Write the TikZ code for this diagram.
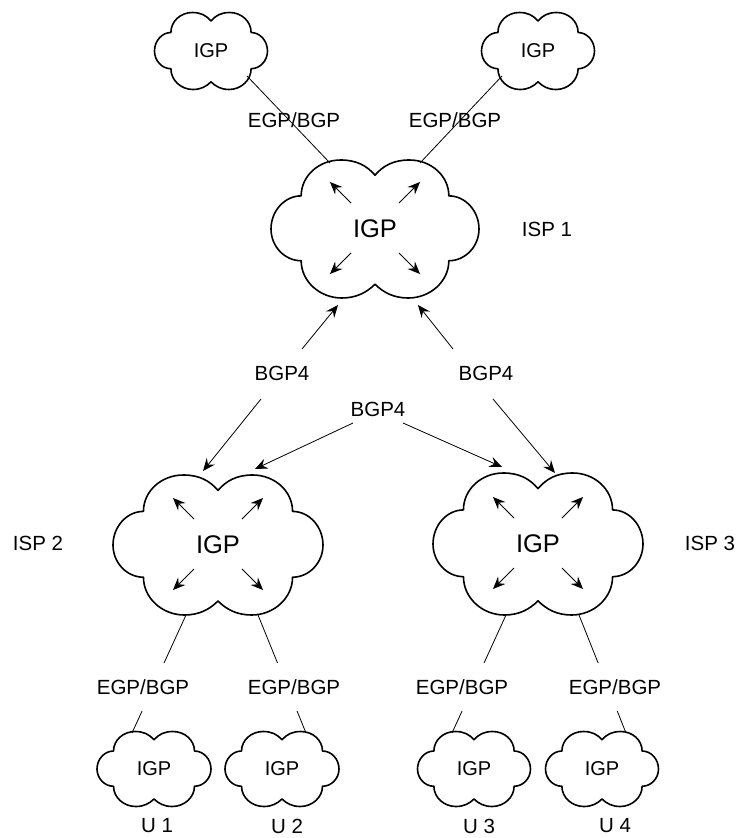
\documentclass[tikz,border=0pt]{standalone}
\usepackage{fontspec}
\setmainfont{Liberation Sans}
\usetikzlibrary{arrows.meta,calc}
\newcommand{\cloudpath}{(0,-0.78) .. controls (0.08,-0.92) and (0.18,-1) .. (0.33,-1)
 .. controls (0.54,-1) and (0.71,-0.77) .. (0.71,-0.48)
 .. controls (0.87,-0.48) and (1,-0.26) .. (1,0)
 .. controls (1,0.25) and (0.87,0.46) .. (0.71,0.46)
 .. controls (0.71,0.76) and (0.53,1) .. (0.32,1)
 .. controls (0.18,1) and (0.08,0.92) .. (0,0.8)
 .. controls (-0.08,0.92) and (-0.18,1) .. (-0.32,1)
 .. controls (-0.53,1) and (-0.71,0.76) .. (-0.71,0.46)
 .. controls (-0.87,0.46) and (-1,0.25) .. (-1,0)
 .. controls (-1,-0.26) and (-0.87,-0.48) .. (-0.71,-0.48)
 .. controls (-0.71,-0.77) and (-0.54,-1) .. (-0.33,-1)
 .. controls (-0.18,-1) and (-0.08,-0.92) .. (0,-0.78) -- cycle}
\begin{document}
\begin{tikzpicture}[x=1bp,y=-1bp,
  cloudline/.style={line width=1.6bp, line join=round},
  conn/.style={line width=0.8bp},
  arr/.style={conn, -{Stealth[length=12.5bp,width=10.5bp,inset=4.5bp]}},
  lbl/.style={font=\fontsize{20.5bp}{24bp}\selectfont, inner sep=1bp},
  wlbl/.style={lbl, fill=white, minimum height=48bp},
  bigtxt/.style={font=\fontsize{25.5bp}{30bp}\selectfont, inner sep=1bp},
  smalltxt/.style={font=\fontsize{20bp}{24bp}\selectfont, inner sep=1bp}]
\useasboundingbox (0,0) rectangle (738,838);

% cloud nodes
\node[smalltxt] (t1) at (211,51) {IGP};
\node[smalltxt] (t2) at (538,51) {IGP};
\node[bigtxt] (isp1) at (375,229) {IGP};
\node[bigtxt] (isp2) at (218,545) {IGP};
\node[bigtxt] (isp3) at (538,544) {IGP};
\node[smalltxt] (u1c) at (154,769) {IGP};
\node[smalltxt] (u2c) at (282,769) {IGP};
\node[smalltxt] (u3c) at (474,769) {IGP};
\node[smalltxt] (u4c) at (602,769) {IGP};

\foreach \n/\w/\h in {t1/56.5/38.5, t2/56.5/38.5, isp1/104/69, isp2/105/70,
  isp3/105/71, u1c/57/37.5, u2c/57/37.5, u3c/56.5/37.5, u4c/56.5/37.5}
  \draw[cloudline, shift={(\n.center)}, xscale=\w, yscale=\h] \cloudpath;

% internal arrows
\foreach \n in {isp1,isp2,isp3}{
  \draw[arr] ($(\n.center)+(-24,-26)$) -- ($(\n.center)+(-45,-47)$);
  \draw[arr] ($(\n.center)+(24,-26)$) -- ($(\n.center)+(45,-47)$);
  \draw[arr] ($(\n.center)+(-24,24)$) -- ($(\n.center)+(-45,45)$);
  \draw[arr] ($(\n.center)+(24,24)$) -- ($(\n.center)+(45,45)$);
}

% connector end points
\coordinate (t1s) at (247,76);
\coordinate (t2s) at (502,76);
\coordinate (isp1tl) at (330,163);
\coordinate (isp1tr) at (420,163);
\coordinate (isp1bl) at (338,305);
\coordinate (isp1br) at (418,305);
\coordinate (isp2tl) at (203,471);
\coordinate (isp2tr) at (255,469);
\coordinate (isp3tl) at (502,467);
\coordinate (isp3tr) at (555,473);
\coordinate (isp2bl) at (186,615);
\coordinate (isp2br) at (258,615);
\coordinate (isp3bl) at (506,615);
\coordinate (isp3br) at (579,615);
\coordinate (u1t) at (132,733);
\coordinate (u2t) at (306,733);
\coordinate (u3t) at (452,733);
\coordinate (u4t) at (626,733);

% top EGP/BGP links
\draw[conn] (t1s) -- (isp1tl);
\draw[conn] (t2s) -- (isp1tr);
\node[lbl] (eg1) at (294,120) {EGP/BGP};
\node[lbl] (eg2) at (455,120) {EGP/BGP};
\node[lbl] (isp1l) at (547,229) {ISP 1};

% BGP4 labels and arrows
\node[lbl] (b4l) at (282,373) {BGP4};
\node[lbl] (b4r) at (486,373) {BGP4};
\node[lbl] (b4m) at (378,409) {BGP4};
\coordinate (b4lu) at (302,349);
\coordinate (b4ld) at (261,399);
\coordinate (b4ru) at (453,349);
\coordinate (b4rd) at (493,399);
\coordinate (b4ml) at (353,423);
\coordinate (b4mr) at (403,423);
\draw[arr] (b4lu) -- (isp1bl);
\draw[arr] (b4ld) -- (isp2tl);
\draw[arr] (b4ru) -- (isp1br);
\draw[arr] (b4rd) -- (isp3tr);
\draw[arr] (b4ml) -- (isp2tr);
\draw[arr] (b4mr) -- (isp3tl);

\node[lbl] (isp2l) at (38,543) {ISP 2};
\node[lbl] (isp3l) at (710,543) {ISP 3};

% bottom EGP/BGP links
\draw[conn] (isp2bl) -- (u1t);
\draw[conn] (isp2br) -- (u2t);
\draw[conn] (isp3bl) -- (u3t);
\draw[conn] (isp3br) -- (u4t);
\node[wlbl] (eg3) at (143,687) {EGP/BGP};
\node[wlbl] (eg4) at (294,687) {EGP/BGP};
\node[wlbl] (eg5) at (462,687) {EGP/BGP};
\node[wlbl] (eg6) at (615,687) {EGP/BGP};

\node[lbl, inner sep=0pt] (u1) at (157,826) {U 1};
\node[lbl, inner sep=0pt] (u2) at (287,826) {U 2};
\node[lbl, inner sep=0pt] (u3) at (479,826) {U 3};
\node[lbl, inner sep=0pt] (u4) at (615,826) {U 4};
\end{tikzpicture}
\end{document}
